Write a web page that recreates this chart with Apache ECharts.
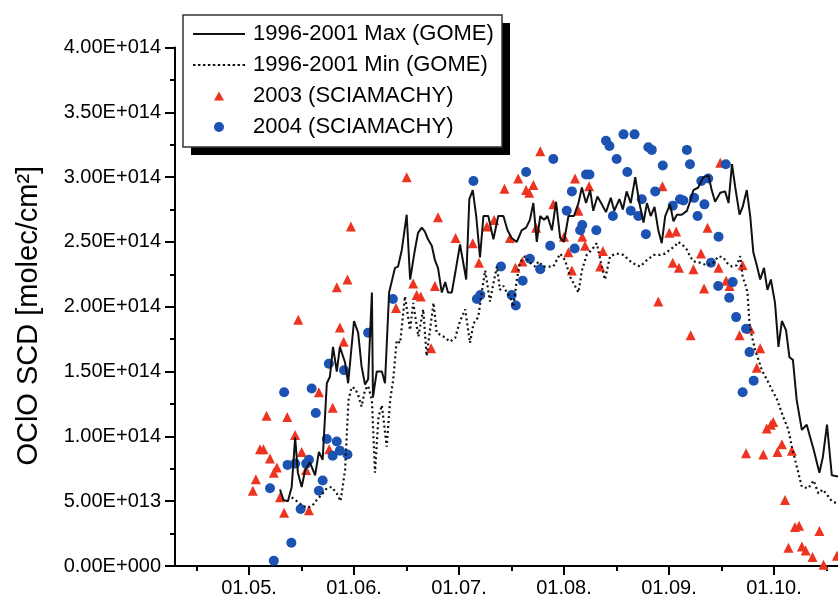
<!DOCTYPE html>
<html>
<head>
<meta charset="utf-8">
<script src="https://cdn.jsdelivr.net/npm/echarts@6/dist/echarts.min.js"></script>
<style>
html,body{margin:0;padding:0;background:#fff;}
#main{width:838px;height:602px;}
</style>
</head>
<body>
<div id="main"></div>
<script>
// x: days after 01.05. (uniform 30.5-day months), y: OClO SCD in units of 1e14 molec/cm2
const monthLabels = ['01.05.', '01.06.', '01.07.', '01.08.', '01.09.', '01.10.'];
const monthDays = [0, 30.5, 61, 91.5, 122, 152.5];
const midMonthDays = [-15.25, 15.25, 45.75, 76.25, 106.75, 137.25, 167.75];

const maxGome = [
[9.0,0.59],[10.0,0.51],[11.3,0.50],[12.4,0.61],[13.4,0.99],[14.2,0.72],[15.3,0.61],[16.3,0.74],[17.7,0.80],[19.2,0.70],
[20.3,0.88],[21.4,0.82],[22.6,1.41],[23.5,1.46],[24.4,1.69],[25.5,1.50],[26.4,1.69],[27.9,1.57],[28.8,1.41],[30.5,1.89],
[31.7,1.80],[32.7,1.54],[33.7,1.40],[34.6,1.44],[35.7,2.11],[36.0,1.30],[37.1,1.50],[38.6,1.50],[39.5,1.41],[40.7,2.11],
[42.4,2.30],[43.3,2.31],[44.4,2.44],[45.8,2.71],[46.8,2.21],[48.2,2.44],[49.1,2.57],[50.2,2.61],[51.1,2.58],[52.0,2.52],
[53.1,2.47],[54.0,2.36],[54.9,2.30],[56.0,2.11],[57.0,2.19],[57.8,2.11],[58.9,2.11],[59.9,2.26],[61.3,2.48],[63.1,2.21],
[64.0,2.83],[65.0,2.90],[66.0,2.70],[67.1,2.38],[68.1,2.70],[69.5,2.70],[71.0,2.52],[72.4,2.70],[73.9,2.70],[75.1,2.59],
[76.3,2.53],[77.8,2.50],[79.2,2.59],[80.5,2.61],[81.6,2.67],[82.6,2.80],[83.6,2.50],[84.6,2.70],[85.7,2.67],[86.7,2.70],
[88.0,2.59],[89.2,2.81],[90.4,2.53],[91.5,2.50],[92.8,2.70],[94.4,2.70],[95.7,2.80],[96.7,2.92],[97.9,2.80],[99.1,2.90],
[100.0,2.74],[101.2,2.85],[102.5,2.79],[103.7,2.73],[105.1,2.84],[106.1,2.74],[107.6,2.83],[108.6,2.75],[109.7,2.89],[110.9,2.80],
[112.2,3.00],[113.4,2.80],[114.6,2.65],[115.6,2.80],[116.7,2.70],[117.8,2.77],[118.9,2.59],[119.9,2.49],[120.9,2.70],[122.3,2.79],
[123.3,2.66],[124.3,2.71],[125.7,2.71],[127.2,2.74],[128.1,2.81],[129.1,2.90],[130.5,2.92],[132.0,3.00],[133.5,3.01],[134.4,2.90],
[135.4,2.81],[136.9,2.88],[138.3,2.89],[139.3,2.80],[140.3,3.10],[141.2,2.93],[142.5,2.71],[143.4,2.77],[144.6,2.90],[145.6,2.70],
[146.5,2.42],[147.5,2.32],[148.5,2.21],[149.6,2.30],[150.6,2.13],[151.6,2.21],[152.8,2.03],[153.8,1.69],[154.8,1.89],[156.0,1.82],
[157.0,1.61],[158.0,1.59],[159.1,1.28],[160.6,1.05],[162.0,1.09],[164.0,0.90],[165.7,0.72],[166.7,0.84],[167.9,1.09],[169.3,0.70],
[171.1,0.69]
];

const minGome = [
[12.4,0.53],[13.9,0.50],[15.3,0.47],[16.8,0.45],[18.2,0.46],[19.7,0.51],[21.1,0.55],[22.6,0.60],[24.0,0.61],[25.5,0.56],
[26.6,0.50],[27.9,0.74],[28.9,1.28],[29.8,1.38],[30.8,1.37],[31.7,1.32],[32.7,1.23],[33.7,1.36],[34.6,1.39],[35.7,1.28],
[36.6,0.72],[37.6,1.15],[38.6,1.24],[40.0,0.92],[41.0,1.28],[41.9,1.44],[42.9,1.74],[43.9,1.72],[45.3,2.08],[46.8,1.82],
[47.7,2.03],[49.2,1.77],[50.6,1.98],[51.6,1.62],[53.6,2.03],[54.5,1.80],[56.5,1.77],[58.4,1.73],[59.9,1.76],[61.3,1.89],
[62.8,1.98],[64.2,1.72],[65.2,1.87],[66.6,1.92],[67.6,2.11],[68.6,2.28],[70.0,2.04],[71.0,2.18],[72.0,2.31],[72.9,2.13],
[73.9,2.16],[74.9,2.11],[75.8,2.08],[76.8,2.00],[77.8,2.21],[78.7,2.34],[80.2,2.39],[81.6,2.34],[83.1,2.31],[84.1,2.35],
[85.5,2.31],[87.0,2.31],[88.4,2.31],[90.4,2.41],[91.8,2.36],[93.3,2.23],[94.7,2.16],[95.7,2.11],[96.7,2.28],[98.1,2.40],
[99.6,2.44],[101.0,2.49],[102.5,2.31],[103.4,2.21],[104.9,2.39],[106.8,2.41],[108.8,2.40],[111.2,2.34],[113.6,2.31],[115.6,2.36],
[117.5,2.40],[119.4,2.40],[120.9,2.41],[122.3,2.44],[123.8,2.47],[124.7,2.50],[126.2,2.47],[127.2,2.44],[128.1,2.39],[129.1,2.35],
[131.0,2.34],[133.0,2.32],[134.9,2.34],[136.4,2.39],[137.8,2.38],[138.8,2.34],[140.3,2.31],[141.7,2.32],[142.7,2.39],[143.4,2.23],
[144.1,2.18],[144.8,2.11],[145.4,1.87],[146.1,1.77],[147.0,1.67],[148.0,1.59],[149.0,1.51],[150.4,1.44],[151.9,1.36],[153.3,1.29],
[155.2,1.15],[156.7,1.05],[157.7,0.92],[159.1,0.77],[160.6,0.61],[162.5,0.60],[164.0,0.66],[165.4,0.56],[166.7,0.59],[167.9,0.55],
[169.3,0.50],[171.1,0.48]
];

const scia2003 = [
[1.1,0.58],[2.0,0.67],[3.2,0.90],[4.2,0.90],[5.1,1.16],[6.1,0.83],[7.2,0.72],[8.1,0.76],[9.0,0.53],[10.2,0.41],
[11.1,1.15],[13.4,1.01],[14.3,1.90],[15.3,0.88],[16.6,0.74],[17.4,0.43],[20.3,1.34],[23.3,0.90],[24.3,1.22],[25.5,2.15],
[26.4,1.84],[27.5,1.73],[28.6,2.21],[29.6,2.62],[42.7,1.99],[45.8,3.00],[47.7,2.18],[48.7,2.09],[49.9,2.08],[52.9,1.68],
[54.0,2.16],[54.9,2.69],[60.0,2.53],[65.0,2.49],[66.8,2.34],[69.1,2.62],[71.2,2.67],[74.2,2.91],[75.8,2.53],[77.4,2.30],
[78.2,2.99],[79.4,2.35],[80.5,2.90],[81.4,2.88],[82.6,2.94],[83.4,2.61],[84.6,3.20],[88.4,2.79],[91.5,2.54],[92.8,2.42],
[93.8,2.28],[94.7,2.99],[95.7,2.74],[96.8,2.54],[97.6,2.47],[98.8,2.93],[102.0,2.31],[102.8,2.43],[118.9,2.04],[120.1,2.93],
[122.1,2.57],[123.1,2.34],[124.1,2.58],[124.9,2.30],[128.3,1.78],[129.1,2.29],[131.3,2.41],[132.2,2.14],[133.2,2.61],[136.4,2.30],
[136.9,3.11],[138.6,2.20],[139.6,2.16],[142.5,1.78],[143.4,2.32],[144.4,0.87],[145.6,1.83],[147.5,1.53],[148.5,1.68],[149.4,0.86],
[150.4,1.06],[151.6,1.09],[152.3,1.11],[153.5,0.88],[154.8,0.94],[155.7,0.51],[156.7,0.14],[157.7,0.89],[158.6,0.30],[159.8,0.31],
[160.6,0.15],[161.7,0.12],[163.7,0.07],[165.7,0.27],[166.9,0.01],[170.8,0.08]
];

const scia2004 = [
[6.1,0.60],[7.2,0.04],[10.2,1.34],[11.2,0.78],[12.3,0.18],[13.4,0.79],[15.0,0.44],[16.6,0.79],[17.4,0.82],[18.2,1.37],
[19.4,1.18],[20.3,0.58],[21.4,0.66],[22.6,0.98],[23.2,1.56],[24.3,0.85],[25.5,0.96],[26.4,0.89],[27.6,1.51],[28.6,0.86],
[34.6,1.80],[41.8,2.06],[65.2,2.97],[66.2,2.06],[67.2,2.09],[73.2,2.31],[76.3,2.09],[77.5,2.01],[79.5,2.20],[80.5,3.04],
[81.6,2.37],[84.6,2.29],[87.5,2.47],[88.4,3.14],[92.3,2.74],[93.8,2.89],[94.6,2.45],[96.2,2.59],[96.8,2.63],[97.9,3.02],
[98.9,3.02],[100.9,2.59],[103.7,3.28],[104.7,3.24],[105.7,2.70],[106.8,3.14],[108.8,3.33],[109.9,3.04],[110.9,2.74],[112.0,3.33],
[113.1,2.70],[114.1,2.83],[115.3,2.56],[116.0,3.23],[117.0,3.21],[118.0,2.89],[120.2,3.09],[123.1,2.78],[125.2,2.83],[126.2,2.82],
[127.2,3.21],[128.1,3.10],[129.3,2.84],[130.3,2.70],[131.4,2.97],[132.3,2.79],[133.4,2.99],[134.2,2.34],[136.3,2.16],[136.4,2.54],
[138.5,3.10],[139.5,2.07],[140.5,2.19],[141.5,1.92],[143.4,1.34],[144.4,1.83],[145.4,1.65],[146.6,1.43]
];

function sciLabel(v) {
  const a = v * 1e14;
  if (a === 0) return '0.00E+000';
  const e = Math.floor(Math.log10(a) + 1e-9);
  const m = a / Math.pow(10, e);
  return m.toFixed(2) + 'E+' + String(e).padStart(3, '0');
}

// legend icons (bounding box forced to 52 x 11 by the two leading moveTo points)
const BOX = 'M0,0M52,11';
let dots = '';
for (let i = 0; i < 11; i++) dots += 'M' + (i * 5) + ',4.5h2.5v2h-2.5z';
const iconSolid = 'path://' + BOX + 'M0,4.5H52V6.5H0Z';
const iconDotted = 'path://' + BOX + dots;
const iconTri = 'path://' + BOX + 'M21,10L26,1L31,10Z';
const iconCircle = 'path://' + BOX + 'M31,5.5A5,5,0,1,1,21,5.5A5,5,0,1,1,31,5.5Z';

const FONT = '"Liberation Sans", Arial, Helvetica, sans-serif';
const chart = echarts.init(document.getElementById('main'), null, {renderer: 'canvas'});
const xMin = -21.5, xMax = 171.1;

chart.setOption({
  animation: false,
  backgroundColor: '#ffffff',
  textStyle: {fontFamily: FONT},
  grid: {left: 175, top: 47.5, right: 0, bottom: 36},
  graphic: [
    {type: 'rect', z: 3, silent: true, shape: {x: 191, y: 23, width: 319, height: 132}, style: {fill: '#000'}},
    {type: 'rect', z: 3, silent: true, shape: {x: 183, y: 15, width: 319, height: 132}, style: {fill: '#fff', stroke: '#333', lineWidth: 1.5}}
  ],
  legend: {
    orient: 'vertical',
    left: 183, top: 15, z: 5,
    itemWidth: 52, itemHeight: 11, itemGap: 9,
    padding: [8, 8, 8, 10],
    backgroundColor: 'transparent', borderWidth: 0,
    selectedMode: false,
    symbolKeepAspect: true,
    textStyle: {fontSize: 22, color: '#000', fontFamily: FONT, padding: [0, 0, 0, 3]},
    data: [
      {name: '1996-2001 Max (GOME)', icon: iconSolid},
      {name: '1996-2001 Min (GOME)', icon: iconDotted},
      {name: '2003 (SCIAMACHY)', icon: iconTri},
      {name: '2004 (SCIAMACHY)', icon: iconCircle}
    ]
  },
  xAxis: [{
    type: 'value', min: xMin, max: xMax,
    axisLine: {onZero: false, lineStyle: {color: '#000', width: 2}},
    axisTick: {show: true, customValues: monthDays, length: 9, lineStyle: {color: '#000', width: 2}},
    axisLabel: {customValues: monthDays, margin: 12, fontSize: 20, color: '#000', fontFamily: FONT,
      formatter: v => monthLabels[Math.round(v / 30.5)]},
    splitLine: {show: false}
  }, {
    type: 'value', min: xMin, max: xMax, position: 'bottom',
    axisLine: {show: false, onZero: false},
    axisTick: {show: true, customValues: midMonthDays, length: 5, lineStyle: {color: '#000', width: 2}},
    axisLabel: {show: false},
    splitLine: {show: false}
  }],
  yAxis: {
    type: 'value', min: 0, max: 4, interval: 0.5,
    name: 'OClO SCD [molec/cm²]',
    nameLocation: 'middle', nameGap: 132, nameRotate: 90,
    nameTextStyle: {fontSize: 29, color: '#000', fontFamily: FONT, padding: [0, 18, 0, 0]},
    axisLine: {show: true, onZero: false, lineStyle: {color: '#000', width: 2}},
    axisTick: {show: true, length: 10, lineStyle: {color: '#000', width: 2}},
    minorTick: {show: true, splitNumber: 2, length: 5, lineStyle: {color: '#000', width: 2}},
    axisLabel: {margin: 14, fontSize: 20, color: '#000', fontFamily: FONT, formatter: sciLabel},
    splitLine: {show: false}
  },
  series: [{
    name: '1996-2001 Max (GOME)', type: 'line', data: maxGome,
    symbol: 'none', showSymbol: false,
    lineStyle: {color: '#111', width: 2}, itemStyle: {color: '#111'}
  }, {
    name: '1996-2001 Min (GOME)', type: 'line', data: minGome,
    symbol: 'none', showSymbol: false,
    lineStyle: {color: '#111', width: 2.2, type: [2, 3]}, itemStyle: {color: '#111'}
  }, {
    name: '2003 (SCIAMACHY)', type: 'scatter', data: scia2003,
    symbol: 'triangle', symbolSize: 10,
    itemStyle: {color: '#ec3420', opacity: 1}
  }, {
    name: '2004 (SCIAMACHY)', type: 'scatter', data: scia2004,
    symbol: 'circle', symbolSize: 10,
    itemStyle: {color: '#1c52b2', opacity: 1}
  }]
});
</script>
</body>
</html>
